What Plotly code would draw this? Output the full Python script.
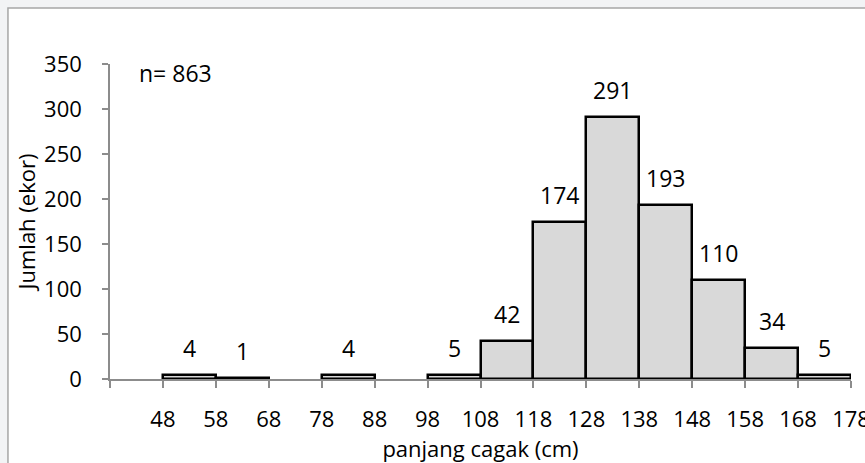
import plotly.graph_objects as go

# ---- data ----
bin_start = [48, 58, 68, 78, 88, 98, 108, 118, 128, 138, 148, 158, 168]
counts = [4, 1, 0, 4, 0, 5, 42, 174, 291, 193, 110, 34, 5]
bin_width = 10
tick_values = [38, 48, 58, 68, 78, 88, 98, 108, 118, 128, 138, 148, 158, 168, 178]
tick_text = ["", "48", "58", "68", "78", "88", "98", "108", "118", "128", "138",
             "148", "158", "168", "178"]
n_label = "n= 863"
x_title = "panjang cagak (cm)"
y_title = "Jumlah (ekor)"

FONT = "Open Sans"
FS = 22
AXIS_COL = "#8c8c8c"

xs = [s + bin_width / 2 for s, c in zip(bin_start, counts) if c > 0]
ys = [c for c in counts if c > 0]

fig = go.Figure()
fig.add_trace(go.Bar(
    x=xs, y=ys, width=[bin_width] * len(xs),
    marker=dict(color="#d9d9d9", line=dict(color="black", width=2.5)),
    hoverinfo="skip",
))

annotations = []
for x, y in zip(xs, ys):
    annotations.append(dict(
        x=x, y=y, xref="x", yref="y", text=str(y), showarrow=False,
        yanchor="middle", xanchor="center", yshift=27,
        font=dict(family=FONT, size=FS + 1, color="black"),
    ))
annotations.append(dict(
    x=0.036, y=0.971, xref="paper", yref="paper", text=n_label, showarrow=False,
    xanchor="left", yanchor="middle", font=dict(family=FONT, size=FS + 1, color="black"),
))

fig.update_layout(
    width=865, height=463,
    margin=dict(l=110, r=14, t=64, b=84, autoexpand=False),
    paper_bgcolor="#f2f3f5",
    plot_bgcolor="rgba(0,0,0,0)",
    showlegend=False,
    font=dict(family=FONT, size=FS, color="black"),
    bargap=0,
    annotations=annotations,
    shapes=[dict(
        type="rect", xref="paper", yref="paper",
        x0=-0.1377, x1=2.0, y0=-1.0, y1=1.1778,
        fillcolor="white", line=dict(color="#a6a6a6", width=1.5), layer="below",
    )],
    xaxis=dict(
        range=[38, 178], tickvals=tick_values, ticktext=tick_text,
        showline=True, linecolor=AXIS_COL, linewidth=1.5,
        ticks="outside", ticklen=7, tickcolor=AXIS_COL, tickwidth=1.5,
        ticklabelstandoff=13, ticklabeloverflow="allow",
        showgrid=False, zeroline=False, automargin=False,
        title=dict(text=x_title, standoff=3, font=dict(family=FONT, size=FS)),
        tickfont=dict(family=FONT, size=FS),
    ),
    yaxis=dict(
        range=[0, 350], dtick=50,
        showline=True, linecolor=AXIS_COL, linewidth=1.5,
        ticks="outside", ticklen=6, tickcolor=AXIS_COL, tickwidth=1.5,
        ticklabelstandoff=16,
        showgrid=False, zeroline=False, automargin=False,
        title=dict(text=y_title, standoff=2, font=dict(family=FONT, size=FS)),
        tickfont=dict(family=FONT, size=FS),
    ),
)

fig.write_html("out.html", config={"displayModeBar": False},
               post_script="document.body.style.margin='0';")
